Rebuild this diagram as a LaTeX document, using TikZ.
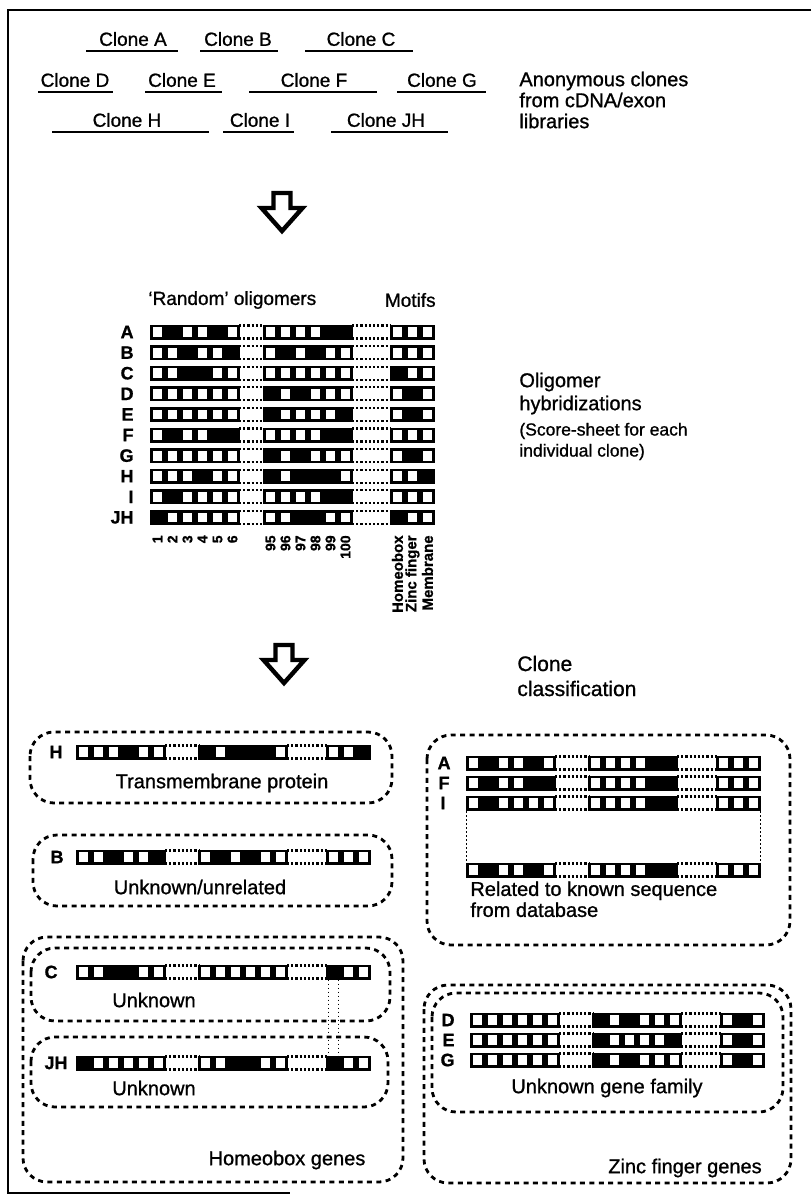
\documentclass[tikz,border=0pt]{standalone}
\usepackage{fontspec}
\setmainfont{Liberation Sans}[FakeBold=1]
\usepackage{tikz}

\newcommand{\cellrun}[3]{%
  \foreach \bit [count=\i from 0] in {#3} {
    \fill (#1+\i*15,#2-7.5) rectangle ++(15,15);
    \ifnum\bit=0 \fill[white] (#1+\i*15+2.7,#2-4.9) rectangle ++(9.6,9.8);\fi
  }}
\newcommand{\oligobar}[7]{%
  \draw[gapdots] (#1+89,#2-6.5) -- ++(#3+2,0) (#1+89,#2+6.5) -- ++(#3+2,0);
  \draw[gapdots] (#1+179+#3,#2-6.5) -- ++(#4+2,0) (#1+179+#3,#2+6.5) -- ++(#4+2,0);
  \cellrun{#1}{#2}{#5}
  \cellrun{#1+90+#3}{#2}{#6}
  \cellrun{#1+180+#3+#4}{#2}{#7}}
\newcommand{\hollowarrow}[2]{%
  \draw[blockarrow] (#1-8.5,#2) -- (#1+8.5,#2) -- (#1+8.5,#2+15) -- (#1+20.5,#2+15)
    -- (#1,#2+38) -- (#1-20.5,#2+15) -- (#1-8.5,#2+15) -- cycle;}

\begin{document}
\begin{tikzpicture}[x=0.5pt, y=-0.5pt,
  txt/.style={font=\fontsize{9.5}{11}\selectfont, inner sep=0pt},
  bigtxt/.style={font=\fontsize{10}{10.5}\selectfont, inner sep=0pt, align=left},
  rowlbl/.style={font=\fontsize{9}{10}\selectfont\bfseries, inner sep=0pt, anchor=east},
  collbl/.style={font=\fontsize{7}{7}\selectfont\bfseries, inner sep=0pt, rotate=90, anchor=east},
  motlbl/.style={collbl, font=\fontsize{7.5}{7.5}\selectfont\bfseries},
  underl/.style={line width=1.1pt},
  gapdots/.style={line width=1.1pt, dash pattern=on 1.1pt off 1pt},
  linkdots/.style={line width=0.6pt, dash pattern=on 0.8pt off 1.2pt},
  groupbox/.style={line width=1.4pt, dash pattern=on 2.5pt off 2.2pt, rounded corners=12pt},
  blockarrow/.style={line width=2.2pt, line join=miter}]
  \useasboundingbox (0,0) rectangle (811,1196);
  \draw[line width=0.8pt] (811,10) -- (8,10) -- (8,1193) -- (290,1193);

  \node[txt] (cloneA) at (133,39) {Clone A};
  \draw[underl] (86,51) -- (178,51);
  \node[txt] (cloneB) at (238,39) {Clone B};
  \draw[underl] (200,51) -- (278,51);
  \node[txt] (cloneC) at (361,39) {Clone C};
  \draw[underl] (305,51) -- (413,51);
  \node[txt] (cloneD) at (75,80) {Clone D};
  \draw[underl] (38,92) -- (113,92);
  \node[txt] (cloneE) at (182,80) {Clone E};
  \draw[underl] (145,92) -- (222,92);
  \node[txt] (cloneF) at (314,80) {Clone F};
  \draw[underl] (249,92) -- (377,92);
  \node[txt] (cloneG) at (442,80) {Clone G};
  \draw[underl] (397,92) -- (486,92);
  \node[txt] (cloneH) at (127,120) {Clone H};
  \draw[underl] (52,132) -- (209,132);
  \node[txt] (cloneI) at (260,120) {Clone I};
  \draw[underl] (223,132) -- (294,132);
  \node[txt] (cloneJH) at (386,120) {Clone JH};
  \draw[underl] (331,132) -- (448,132);
  \node[bigtxt, anchor=west] (anon) at (519,100) {Anonymous clones\\from cDNA/exon\\libraries};

  \hollowarrow{282}{193}

  \node[txt, anchor=west] (random) at (148,300) {`Random' oligomers};
  \node[txt, anchor=east] (motifs) at (436,300) {Motifs};
  \node[rowlbl] (gA) at (134,332) {A};
  \oligobar{150}{332}{23}{37}{0,1,0,0,1,0}{0,0,0,0,1,1}{0,0,0}
  \node[rowlbl] (gB) at (134,352.6) {B};
  \oligobar{150}{352.6}{23}{37}{0,0,1,0,0,1}{0,1,0,1,0,0}{0,0,0}
  \node[rowlbl] (gC) at (134,373.2) {C};
  \oligobar{150}{373.2}{23}{37}{0,0,1,1,0,0}{0,0,0,0,0,0}{1,0,0}
  \node[rowlbl] (gD) at (134,393.8) {D};
  \oligobar{150}{393.8}{23}{37}{0,0,0,0,0,0}{1,0,1,0,0,0}{0,1,0}
  \node[rowlbl] (gE) at (134,414.4) {E};
  \oligobar{150}{414.4}{23}{37}{0,0,0,0,0,0}{1,0,0,0,0,1}{0,1,0}
  \node[rowlbl] (gF) at (134,435) {F};
  \oligobar{150}{435}{23}{37}{0,1,0,0,1,1}{0,0,0,0,1,1}{0,0,0}
  \node[rowlbl] (gG) at (134,455.6) {G};
  \oligobar{150}{455.6}{23}{37}{0,0,0,0,0,0}{1,0,1,0,0,0}{0,1,0}
  \node[rowlbl] (gH) at (134,476.2) {H};
  \oligobar{150}{476.2}{23}{37}{0,0,0,1,0,0}{1,0,1,1,1,0}{0,0,1}
  \node[rowlbl] (gI) at (134,496.8) {I};
  \oligobar{150}{496.8}{23}{37}{0,1,0,0,0,0}{0,0,0,0,1,1}{0,0,0}
  \node[rowlbl] (gJH) at (134,517.4) {JH};
  \oligobar{150}{517.4}{23}{37}{1,0,0,0,0,0}{0,0,1,1,0,0}{1,0,0}
  \foreach \n [count=\i from 0] in {1,...,6}
    \node[collbl] (col\n) at (157.5+\i*15,535) {\n};
  \foreach \n [count=\i from 0] in {95,...,100}
    \node[collbl] (col\n) at (270.5+\i*15,535) {\n};
  \node[motlbl] (colhox) at (397.5,535) {Homeobox};
  \node[motlbl] (colzinc) at (412.5,535) {Zinc finger};
  \node[motlbl] (colmem) at (427.5,535) {Membrane};
  \node[bigtxt, anchor=west, font=\fontsize{10}{11.5}\selectfont] (olig) at (519,393.5) {Oligomer\\hybridizations};
  \node[bigtxt, anchor=west, font=\fontsize{8.75}{10.5}\selectfont] (score) at (519,441.5) {(Score-sheet for each\\individual clone)};

  \hollowarrow{284}{645}
  \node[bigtxt, anchor=west, font=\fontsize{10.5}{12.5}\selectfont] (classif) at (517,676) {Clone\\classification};

  \draw[groupbox] (30,732) rectangle (392,803);
  \node[rowlbl] (bxH) at (63,752) {H};
  \oligobar{76}{752}{32}{38}{0,0,0,1,0,0}{1,0,1,1,1,0}{0,0,1}
  \node[bigtxt] (tmem) at (222,783) {Transmembrane protein};

  \draw[groupbox] (33,835) rectangle (392,906);
  \node[rowlbl] (bxB) at (64,857) {B};
  \oligobar{76}{857}{32}{38}{0,0,1,0,0,1}{0,1,0,1,0,0}{0,0,0}
  \node[bigtxt] (unrel) at (200,887) {Unknown/unrelated};

  \draw[groupbox] (23,937) rectangle (403,1182);
  \draw[groupbox] (31,948) rectangle (390,1021);
  \draw[groupbox] (31,1037) rectangle (388,1107);
  \node[rowlbl] (bxC) at (58,972) {C};
  \oligobar{76}{972}{32}{38}{0,0,1,1,0,0}{0,0,0,0,0,0}{1,0,0}
  \node[bigtxt] (unkC) at (154,1000) {Unknown};
  \node[rowlbl] (bxJH) at (68,1063) {JH};
  \oligobar{76}{1063}{32}{38}{1,0,0,0,0,0}{0,0,1,1,0,0}{1,0,0}
  \node[bigtxt] (unkJH) at (154,1088) {Unknown};
  \coordinate (hoxC) at (333.5,979.5);
  \coordinate (hoxJH) at (333.5,1055.5);
  \draw[linkdots] ([xshift=-2.5pt]hoxC) -- ([xshift=-2.5pt]hoxJH);
  \draw[linkdots] ([xshift=2.5pt]hoxC) -- ([xshift=2.5pt]hoxJH);
  \node[bigtxt] (hoxgenes) at (287,1160) {Homeobox genes};

  \draw[groupbox] (427,735) rectangle (790,945);
  \node[rowlbl] (bxA) at (451,763) {A};
  \oligobar{466}{763}{32}{38}{0,1,0,0,1,0}{0,0,0,0,1,1}{0,0,0}
  \node[rowlbl] (bxF) at (450,783) {F};
  \oligobar{466}{783}{32}{38}{0,1,0,0,1,1}{0,0,0,0,1,1}{0,0,0}
  \node[rowlbl] (bxI) at (446,803) {I};
  \oligobar{466}{803}{32}{38}{0,1,0,0,0,0}{0,0,0,0,1,1}{0,0,0}
  \oligobar{466}{870}{32}{38}{0,1,0,0,1,0}{0,0,0,0,1,1}{0,0,0}
  \coordinate (relL) at (466.5,811);
  \coordinate (relR) at (760.5,811);
  \draw[linkdots] (relL) -- ++(0,51) (relR) -- ++(0,51);
  \node[bigtxt, anchor=north west] (known) at (470,881) {Related to known sequence\\from database};

  \draw[groupbox] (424,985) rectangle (791,1183);
  \draw[groupbox] (432,993) rectangle (783,1112);
  \node[rowlbl] (bxD) at (455,1020) {D};
  \oligobar{470}{1020}{32}{38}{0,0,0,0,0,0}{1,0,1,0,0,0}{0,1,0}
  \node[rowlbl] (bxE) at (455,1040) {E};
  \oligobar{470}{1040}{32}{38}{0,0,0,0,0,0}{1,0,0,0,0,1}{0,1,0}
  \node[rowlbl] (bxG) at (455,1060) {G};
  \oligobar{470}{1060}{32}{38}{0,0,0,0,0,0}{1,0,1,0,0,0}{0,1,0}
  \node[bigtxt] (family) at (607,1088) {Unknown gene family};
  \node[bigtxt] (zincgenes) at (685,1168) {Zinc finger genes};
\end{tikzpicture}
\end{document}
